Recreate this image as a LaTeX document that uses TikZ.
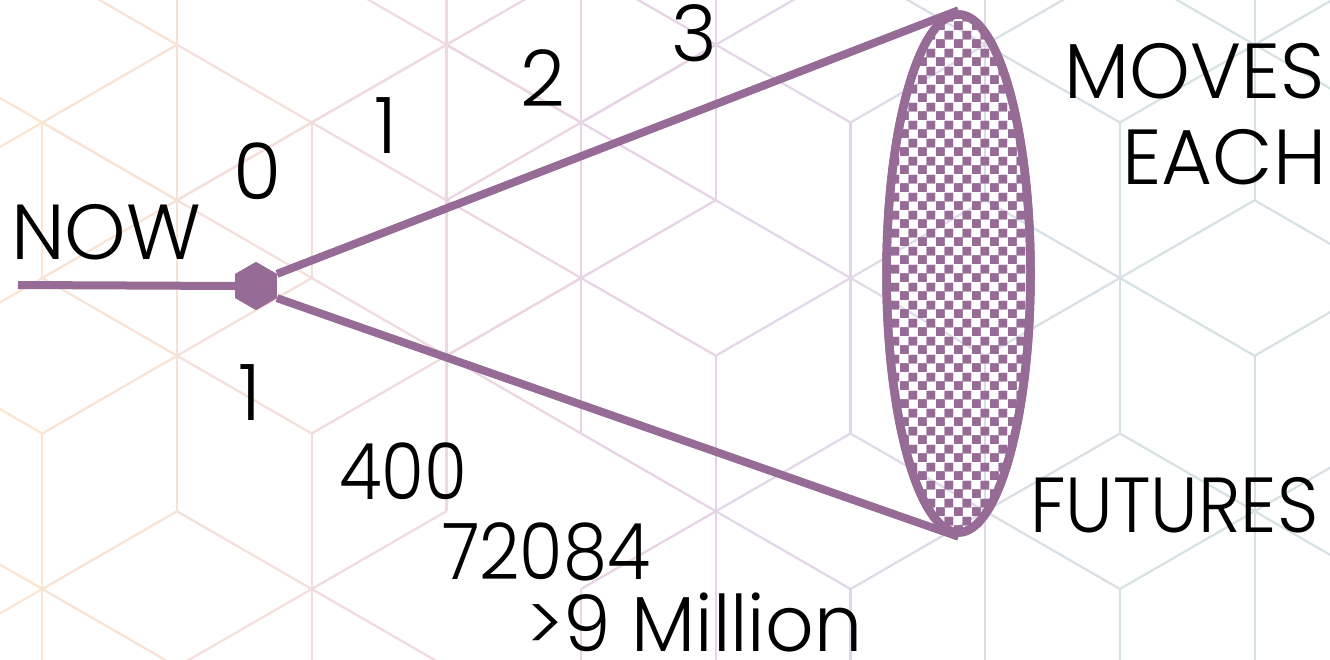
\documentclass[tikz,border=0pt]{standalone}
\usepackage{fontspec}
\usepackage{graphicx}
\setmainfont{Poppins}
\IfFontExistsTF{Poppins Light}{\newfontfamily\labfont{Poppins Light}}{\newfontfamily\labfont{Poppins}}
\usetikzlibrary{shapes.geometric,patterns.meta}
\definecolor{pur}{RGB}{150,108,150}
\definecolor{s0}{RGB}{252,230,208}
\definecolor{s1}{RGB}{241,220,221}
\definecolor{s2}{RGB}{232,210,229}
\definecolor{s3}{RGB}{225,216,233}
\definecolor{s4}{RGB}{214,225,228}
\newcommand\lcol[1]{%
  \pgfmathsetmacro\xx{#1}%
  \ifdim\xx pt<0pt \colorlet{lc}{s0}%
  \else\ifdim\xx pt<330pt \pgfmathsetmacro\pp{(330-\xx)/3.3}\colorlet{lc}{s0!\pp!s1}%
  \else\ifdim\xx pt<600pt \pgfmathsetmacro\pp{(600-\xx)/2.7}\colorlet{lc}{s1!\pp!s2}%
  \else\ifdim\xx pt<880pt \pgfmathsetmacro\pp{(880-\xx)/2.8}\colorlet{lc}{s2!\pp!s3}%
  \else\ifdim\xx pt<1100pt \pgfmathsetmacro\pp{(1100-\xx)/2.2}\colorlet{lc}{s3!\pp!s4}%
  \else \colorlet{lc}{s4}\fi\fi\fi\fi\fi}
\newcommand\fw[2]{\resizebox{#1}{\height}{#2}}
\tikzdeclarepattern{
  name=bigchecks,
  type=uncolored,
  bounding box={(0pt,0pt) and (18pt,18pt)},
  tile size={(18pt,18pt)},
  code={\fill (0pt,0pt) rectangle (9pt,9pt); \fill (9pt,9pt) rectangle (18pt,18pt);}
}
\tikzset{
  conn/.style={draw=pur, line width=8pt},
  hexnode/.style={regular polygon, regular polygon sides=6, shape border rotate=30, minimum size=48pt, inner sep=0pt, fill=pur, draw=none},
  futell/.style={ellipse, draw=pur, line width=8.5pt, pattern=bigchecks, pattern color=pur, minimum width=144pt, minimum height=518pt, inner sep=0pt},
  lbl/.style={inner sep=0pt, text depth=0pt, font=\labfont\fontsize{78}{78}\selectfont, text=black},
  gridline/.style={line width=2.2pt}
}
\begin{document}
\begin{tikzpicture}[x=1pt,y=-1pt]
\useasboundingbox (0,0) rectangle (1330,660);
\fill[white] (0,0) rectangle (1330,660);
% background cube pattern
\begin{scope}
\clip (0,0) rectangle (1330,660);
% full stars
\foreach \c/\m in {-2/0,4/0,-2/6,0/6,2/6,-1/-3,1/-3,3/-3,-1/3,1/3,3/3,1/1,
                   3/-1,5/-1,7/-1,9/-1,5/5,7/5,9/5,
                   4/2,6/2,8/2,10/2,4/8,6/8,8/8,10/8}{
  \pgfmathsetmacro\X{42.3+134.7*\c}
  \pgfmathsetmacro\Y{122.5+77.75*\m}
  \foreach \dx/\dy in {0/-155.5,0/155.5,134.7/77.75,134.7/-77.75,-134.7/77.75,-134.7/-77.75}{
    \pgfmathsetmacro\mx{\X+\dx/2}
    \lcol{\mx}
    \draw[gridline, lc] (\X,\Y) -- ++(\dx,\dy);
  }
}
% stars without the upward edge
\foreach \c/\m in {0/0,2/0}{
  \pgfmathsetmacro\X{42.3+134.7*\c}
  \pgfmathsetmacro\Y{122.5+77.75*\m}
  \foreach \dx/\dy in {0/155.5,134.7/77.75,134.7/-77.75,-134.7/77.75,-134.7/-77.75}{
    \pgfmathsetmacro\mx{\X+\dx/2}
    \lcol{\mx}
    \draw[gridline, lc] (\X,\Y) -- ++(\dx,\dy);
  }
}
\lcol{110}
\draw[gridline, lc] (42.3,-33) -- (177,44.75);
\end{scope}
% main diagram
\coordinate (start) at (18,285);
\node[hexnode] (hex) at (256,286) {};
\node[futell] (ell) at (958.5,273.5) {};
\draw[conn] (start) -- (hex.west);
\draw[conn] (hex.30) -- (ell.north);
\draw[conn] (hex.-30) -- (ell.south);
\node[futell] (ell2) at (958.5,273.5) {};
\node[hexnode] (hex2) at (256,286) {};
% labels
\node[lbl, anchor=base west] (now) at (11,260) {\fw{190pt}{NOW}};
\node[lbl, anchor=base west] (u0) at (233,200) {0};
\node[lbl, anchor=base west] (u1) at (374,154) {1};
\node[lbl, anchor=base west] (u2) at (520,107) {2};
\node[lbl, anchor=base west] (u3) at (671,62) {3};
\node[lbl, anchor=base west] (d1) at (238,420) {1};
\node[lbl, anchor=base west] (d400) at (339,499) {\fw{128pt}{400}};
\node[lbl, anchor=base west] (d72) at (442,579) {\fw{208pt}{72084}};
\node[lbl, anchor=base west] (d9m) at (526,651) {\fw{336pt}{>9 Million}};
\node[lbl, anchor=base west] (moves) at (1064,99) {\fw{260pt}{MOVES}};
\node[lbl, anchor=base west] (each) at (1122,185) {\fw{204pt}{EACH}};
\node[lbl, anchor=base west] (fut) at (1030,532) {\fw{288pt}{FUTURES}};
\end{tikzpicture}
\end{document}
